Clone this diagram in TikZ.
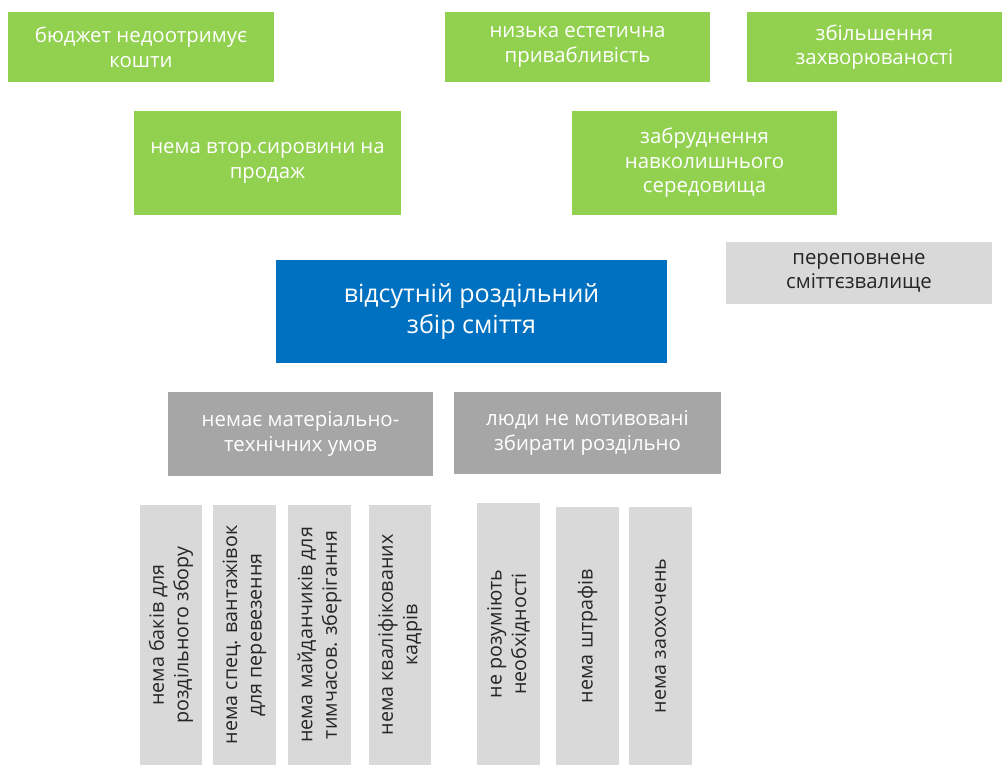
\documentclass[tikz,border=0pt]{standalone}
\usepackage{xcolor}
\usepackage{fontspec}
\setmainfont{Open Sans}
\definecolor{Green}{HTML}{92D050}
\definecolor{Blue}{HTML}{0070C0}
\definecolor{LightGray}{HTML}{D9D9D9}
\definecolor{DarkGray}{HTML}{A6A6A6}
\tikzset{
  greenbox/.style={fill=Green, text=white, align=center, inner sep=0pt, font=\fontsize{14.5}{17.5}\selectfont},
  mainbox/.style={fill=Blue, text=white, align=center, inner sep=0pt, font=\fontsize{17.8}{22}\selectfont},
  darkbox/.style={fill=DarkGray, text=white, align=center, inner sep=0pt, font=\fontsize{14.5}{17.5}\selectfont},
  lightbox/.style={fill=LightGray, text=black!85, align=center, inner sep=0pt, font=\fontsize{14.5}{17.5}\selectfont},
  vbox/.style={lightbox, rotate=90, minimum height=1.575cm, font=\fontsize{14}{17.5}\selectfont},
}

\begin{document}
\begin{tikzpicture}%
\useasboundingbox (0,0) rectangle (25.05,-19.125);%
% effects
\node[greenbox, minimum width=6.650cm, minimum height=1.75cm] (budget) at (3.525,-1.175) {бюджет недоотримує\\кошти};%
\node[greenbox, minimum width=6.625cm, minimum height=1.75cm] (aesthetic) at (14.4375,-1.175) {низька естетична\\привабливість};%
\node[greenbox, minimum width=6.375cm, minimum height=1.75cm] (disease) at (21.8625,-1.175) {збільшення\\захворюваності};%
\node[greenbox, minimum width=6.675cm, minimum height=2.6cm] (norecycle) at (6.6875,-4.075) {нема втор.сировини на\\продаж};%
\node[greenbox, minimum width=6.625cm, minimum height=2.6cm] (pollution) at (17.6125,-4.075) {забруднення\\навколишнього\\середовища};%
\node[lightbox, minimum width=6.650cm, minimum height=1.55cm] (landfill) at (21.475,-6.825) {переповнене\\сміттєзвалище};%
% problem
\node[mainbox, minimum width=9.775cm, minimum height=2.575cm] (problem) at (11.7875,-7.7875) {відсутній роздільний\\збір сміття};%
% causes
\node[darkbox, minimum width=6.625cm, minimum height=2.1cm] (material) at (7.5125,-10.85) {немає матеріально-\\технічних умов};%
\node[darkbox, minimum width=6.675cm, minimum height=2.05cm] (motive) at (14.6875,-10.825) {люди не мотивовані\\збирати роздільно};%
% sub-causes
\node[vbox, minimum width=6.5cm, minimum height=1.55cm] (bins) at (4.275,-15.875) {нема баків для\\роздільного збору};%
\node[vbox, minimum width=6.5cm] (trucks) at (6.1125,-15.875) {нема спец. вантажівок\\для перевезення};%
\node[vbox, minimum width=6.5cm] (sites) at (7.9875,-15.875) {нема майданчиків для\\тимчасов. зберігання};%
\node[vbox, minimum width=6.5cm, minimum height=1.55cm] (staff) at (10.0,-15.875) {нема кваліфікованих\\кадрів};%
\node[vbox, minimum width=6.55cm] (understand) at (12.7125,-15.85) {не розуміють\\необхідності};%
\node[vbox, minimum width=6.45cm] (fines) at (14.6875,-15.9) {нема штрафів};%
\node[vbox, minimum width=6.45cm] (rewards) at (16.5125,-15.9) {нема заохочень};%
\end{tikzpicture}
\end{document}
